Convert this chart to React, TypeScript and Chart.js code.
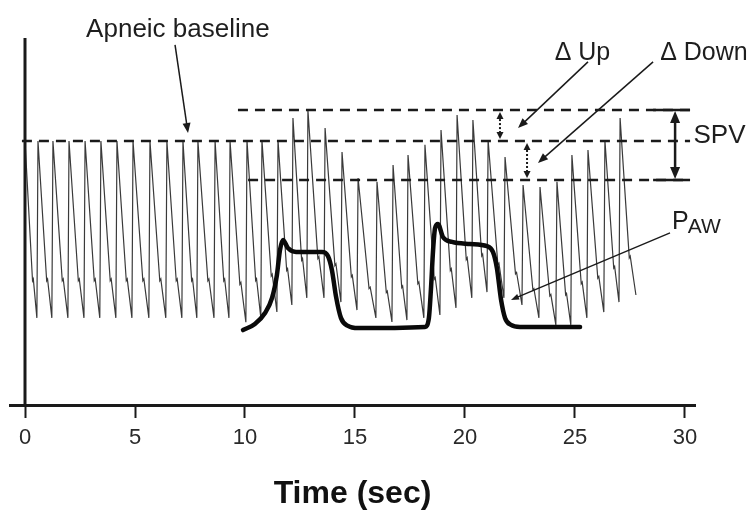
import React, { useEffect, useRef } from 'react';
import { Chart, registerables } from 'chart.js';

Chart.register(...registerables);

const FONT = '"Liberation Sans", Arial, Helvetica, sans-serif';

// ---- axis ----
const xTickValues = [0, 5, 10, 15, 20, 25, 30];
const xMin = -0.682;
const xMax = 30.455;
const yMin = 0;
const yMax = 150;

// ---- arterial pressure beats (peak time s, systolic peak, preceding trough) ----
const beatTimes = [
  0, 0.59, 1.27, 2.0, 2.73, 3.45, 4.18, 4.91, 5.68, 6.45, 7.18, 7.86, 8.64, 9.32,
  10.09, 10.77, 11.5, 12.18, 12.86, 13.64, 14.41, 15.14, 16.0, 16.73, 17.41, 18.18,
  18.91, 19.64, 20.36, 21.05, 21.82, 22.64, 23.41, 24.18, 24.86, 25.59, 26.36, 27.05,
];
const systolic = [
  108.5, 108.5, 108.5, 108.5, 108.5, 108.5, 108.5, 108.5, 108.5, 108.5, 108.5, 108.5, 108.5, 108.5,
  108.9, 108.9, 108.9, 117.9, 121.2, 113.8, 104.0, 93.3, 91.7, 98.6, 102.7, 106.9,
  113.0, 119.2, 117.1, 108.9, 101.9, 90.4, 89.6, 91.7, 102.7, 104.8, 108.9, 117.9,
];
const diastolic = [
  35.8, 35.8, 35.8, 35.8, 35.8, 35.8, 35.8, 35.8, 35.8, 35.8, 35.8, 35.8, 35.8, 35.8,
  34.0, 35.8, 38.2, 41.1, 44.0, 44.0, 42.3, 39.0, 35.8, 34.1, 34.9, 35.8,
  37.0, 39.9, 44.0, 46.4, 44.0, 41.1, 35.8, 32.9, 32.9, 35.8, 38.2, 42.3,
];
const endTime = 27.77;
const endDiastolic = 45.2;

// ---- airway pressure (PAW) ----
const pawTimes = [
  9.91, 10.45, 10.91, 11.23, 11.45, 11.59, 11.73, 11.95, 12.32, 13.5, 13.77, 13.95, 14.14,
  14.36, 14.68, 15.14, 18.18, 18.36, 18.45, 18.55, 18.64, 18.77, 19.0, 19.41, 20.23, 21.0,
  21.27, 21.45, 21.64, 21.82, 22.09, 22.5, 25.23,
];
const pawValues = [
  30.8, 33.3, 37.8, 44.0, 53.4, 63.7, 67.8, 64.5, 62.9, 62.9, 61.2, 55.5, 44.4,
  35.8, 32.5, 31.6, 32.1, 35.8, 47.3, 63.7, 72.7, 74.4, 69.0, 67.0, 66.2, 65.3,
  62.9, 56.3, 43.2, 35.8, 32.9, 32.1, 32.1,
];

// ---- reference levels ----
const apneicBaseline = 108.5;
const spvTop = 121.2;
const spvBottom = 92.5;
const baselineStart = -0.14;
const spvTopStart = 9.68;
const spvBottomStart = 10.14;
const levelsEnd = 30.23;
const capStart = 28.55;
const spvBarX = 29.55;
const deltaUpX = 21.59;
const deltaDownX = 22.82;

// ---- annotations ----
const labelTexts = ['Apneic baseline', '\u0394 Up', '\u0394 Down', 'SPV'];
const labelX = [6.95, 25.34, 30.86, 31.57];
const labelY = [154.1, 144.7, 144.7, 110.6];
const labelSize = [26, 25, 25, 26];
const arrowFromX = [6.82, 25.59, 28.55, 29.32];
const arrowFromY = [148.0, 141.0, 141.0, 70.7];
const arrowToX = [7.41, 22.41, 23.32, 22.09];
const arrowToY = [111.8, 113.8, 99.5, 43.2];
const pawLabelX = 29.41;
const pawLabelY = 72.3;

function buildArterial() {
  const pts: { x: number; y: number }[] = [];
  const UP = 0.05;
  for (let i = 0; i < beatTimes.length; i++) {
    const t = beatTimes[i];
    const s = systolic[i];
    const last = i === beatTimes.length - 1;
    const tNext = last ? endTime : beatTimes[i + 1];
    const dNext = last ? endDiastolic : diastolic[i + 1];
    if (i > 0) pts.push({ x: t - UP, y: diastolic[i] });
    pts.push({ x: t, y: s });
    const T = tNext - t;
    const drop = s - dNext;
    pts.push({ x: t + 0.58 * T, y: dNext + 0.21 * drop });
    pts.push({ x: t + 0.64 * T, y: dNext + 0.22 * drop });
    if (last) pts.push({ x: tNext, y: dNext });
  }
  return pts;
}

function arrowHead(ctx: CanvasRenderingContext2D, x1: number, y1: number, x2: number, y2: number, len: number, half: number) {
  const a = Math.atan2(y2 - y1, x2 - x1);
  ctx.beginPath();
  ctx.moveTo(x2, y2);
  ctx.lineTo(x2 - len * Math.cos(a) + half * Math.sin(a), y2 - len * Math.sin(a) - half * Math.cos(a));
  ctx.lineTo(x2 - len * Math.cos(a) - half * Math.sin(a), y2 - len * Math.sin(a) + half * Math.cos(a));
  ctx.closePath();
  ctx.fill();
}

function arrow(ctx: CanvasRenderingContext2D, x1: number, y1: number, x2: number, y2: number, len: number, half: number) {
  const a = Math.atan2(y2 - y1, x2 - x1);
  ctx.beginPath();
  ctx.moveTo(x1, y1);
  ctx.lineTo(x2 - len * 0.8 * Math.cos(a), y2 - len * 0.8 * Math.sin(a));
  ctx.stroke();
  arrowHead(ctx, x1, y1, x2, y2, len, half);
}

const annotationPlugin = {
  id: 'annotations',
  afterDatasetsDraw(chart: any) {
    const ctx: CanvasRenderingContext2D = chart.ctx;
    const xs = chart.scales.x;
    const ys = chart.scales.y;
    const px = (v: number) => xs.getPixelForValue(v);
    const py = (v: number) => ys.getPixelForValue(v);
    const area = chart.chartArea;
    ctx.save();
    // y axis line at t = 0
    ctx.strokeStyle = '#1a1a1a';
    ctx.lineWidth = 3;
    ctx.beginPath();
    ctx.moveTo(px(0), area.top - 2);
    ctx.lineTo(px(0), area.bottom);
    ctx.stroke();

    ctx.fillStyle = '#1a1a1a';
    // SPV double arrow
    ctx.lineWidth = 2.5;
    ctx.beginPath();
    ctx.moveTo(px(spvBarX), py(spvTop) + 8);
    ctx.lineTo(px(spvBarX), py(spvBottom) - 8);
    ctx.stroke();
    arrowHead(ctx, px(spvBarX), py(spvBottom), px(spvBarX), py(spvTop) + 1, 12, 5);
    arrowHead(ctx, px(spvBarX), py(spvTop), px(spvBarX), py(spvBottom) - 1, 12, 5);

    // delta dotted double arrows
    ctx.lineWidth = 2;
    ctx.setLineDash([2, 2]);
    const deltas: [number, number, number][] = [
      [deltaUpX, spvTop, apneicBaseline],
      [deltaDownX, apneicBaseline, spvBottom],
    ];
    deltas.forEach(([x, a, b]) => {
      ctx.beginPath();
      ctx.moveTo(px(x), py(a) + 5);
      ctx.lineTo(px(x), py(b) - 5);
      ctx.stroke();
    });
    ctx.setLineDash([]);
    deltas.forEach(([x, a, b]) => {
      arrowHead(ctx, px(x), py(b), px(x), py(a) + 2, 7, 3.5);
      arrowHead(ctx, px(x), py(a), px(x), py(b) - 2, 7, 3.5);
    });

    // label arrows
    for (let i = 0; i < arrowFromX.length; i++) {
      ctx.lineWidth = i === 3 ? 1.3 : 1.5;
      arrow(ctx, px(arrowFromX[i]), py(arrowFromY[i]), px(arrowToX[i]), py(arrowToY[i]), i === 3 ? 8 : 10, i === 3 ? 3 : 4);
    }

    // texts
    ctx.fillStyle = '#1e1e1e';
    ctx.textAlign = 'center';
    ctx.textBaseline = 'middle';
    for (let i = 0; i < labelTexts.length; i++) {
      ctx.font = `${labelSize[i]}px ${FONT}`;
      ctx.fillText(labelTexts[i], px(labelX[i]), py(labelY[i]));
    }
    // PAW with small subscript letters
    ctx.textAlign = 'left';
    ctx.textBaseline = 'alphabetic';
    ctx.font = `25px ${FONT}`;
    const pX = px(pawLabelX);
    const pY = py(pawLabelY);
    ctx.fillText('P', pX, pY);
    const w = ctx.measureText('P').width;
    ctx.font = `21px ${FONT}`;
    ctx.fillText('AW', pX + w - 1, pY + 4);
    ctx.restore();
  },
};

export default function App() {
  const ref = useRef<HTMLCanvasElement | null>(null);
  useEffect(() => {
    document.body.style.margin = '0';
    const canvas = ref.current;
    if (!canvas) return;
    const dash = [10, 7];
    const level = (x0: number, y: number) => [
      { x: x0, y },
      { x: levelsEnd, y },
    ];
    const chart = new Chart(canvas, {
      type: 'line',
      data: {
        datasets: [
          {
            label: 'PAW',
            data: pawTimes.map((t, i) => ({ x: t, y: pawValues[i] })),
            borderColor: '#0a0a0a',
            borderWidth: 4.5,
            pointRadius: 0,
            cubicInterpolationMode: 'monotone',
            borderCapStyle: 'round',
            borderJoinStyle: 'round',
            order: 0,
          },
          {
            label: 'Apneic baseline',
            data: level(baselineStart, apneicBaseline),
            borderColor: '#1a1a1a',
            borderWidth: 2.5,
            borderDash: dash,
            pointRadius: 0,
            order: 1,
          },
          {
            label: 'SPV top',
            data: level(spvTopStart, spvTop),
            borderColor: '#1a1a1a',
            borderWidth: 2.5,
            borderDash: dash,
            pointRadius: 0,
            order: 1,
          },
          {
            label: 'SPV bottom',
            data: level(spvBottomStart, spvBottom),
            borderColor: '#1a1a1a',
            borderWidth: 2.5,
            borderDash: dash,
            pointRadius: 0,
            order: 1,
          },
          {
            label: 'SPV top cap',
            data: level(capStart, spvTop),
            borderColor: '#1a1a1a',
            borderWidth: 2.5,
            pointRadius: 0,
            order: 1,
          },
          {
            label: 'SPV bottom cap',
            data: level(capStart, spvBottom),
            borderColor: '#1a1a1a',
            borderWidth: 2.5,
            pointRadius: 0,
            order: 1,
          },
          {
            label: 'Arterial pressure',
            data: buildArterial(),
            borderColor: '#3a3a3a',
            borderWidth: 1.2,
            pointRadius: 0,
            tension: 0,
            order: 2,
          },
        ],
      },
      options: {
        responsive: false,
        animation: false,
        devicePixelRatio: 1,
        layout: { padding: { left: 10, right: 60, top: 40, bottom: 0 } },
        plugins: { legend: { display: false }, tooltip: { enabled: false } },
        scales: {
          x: {
            type: 'linear',
            min: xMin,
            max: xMax,
            afterBuildTicks: (scale: any) => {
              scale.ticks = xTickValues.map((v) => ({ value: v }));
            },
            afterFit: (scale: any) => {
              scale.height = 111;
            },
            ticks: {
              autoSkip: false,
              maxRotation: 0,
              padding: 7,
              color: '#2a2a2a',
              font: { family: FONT, size: 22 },
            },
            grid: {
              drawOnChartArea: false,
              drawTicks: true,
              tickLength: 13,
              tickWidth: 2,
              tickColor: '#1a1a1a',
              color: '#1a1a1a',
            },
            border: { display: true, width: 3, color: '#1a1a1a' },
            title: {
              display: true,
              text: 'Time (sec)',
              color: '#111',
              font: { family: FONT, size: 32, weight: 'bold' },
              padding: { top: 0, bottom: 3 },
            },
          },
          y: {
            type: 'linear',
            display: false,
            min: yMin,
            max: yMax,
          },
        },
      },
      plugins: [annotationPlugin],
    } as any);
    return () => chart.destroy();
  }, []);
  return <canvas ref={ref} width={755} height={516} style={{ display: 'block' }} />;
}
